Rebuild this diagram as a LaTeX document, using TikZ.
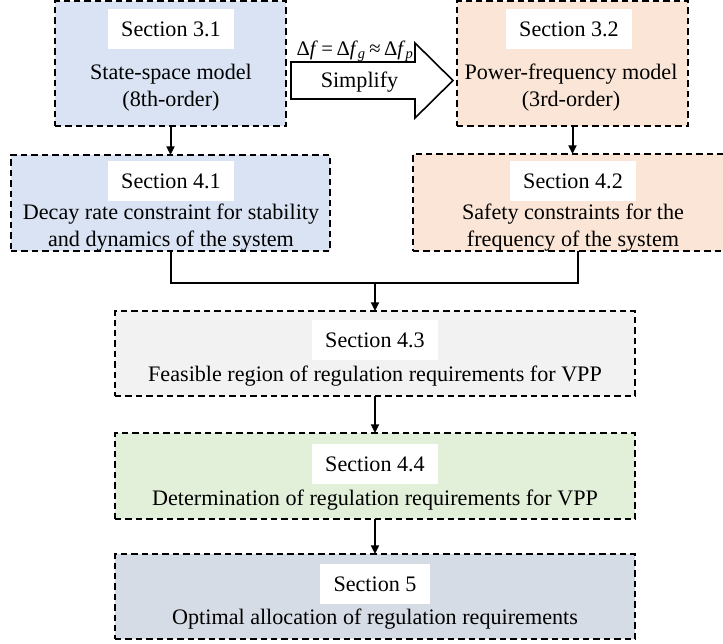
\documentclass[tikz,border=0pt]{standalone}
\usepackage{fontspec}
\setmainfont{Liberation Serif}
\usetikzlibrary{arrows.meta}
\definecolor{cblue}{HTML}{DAE3F3}
\definecolor{cpeach}{HTML}{FBE5D6}
\definecolor{cgray}{HTML}{F2F2F2}
\definecolor{cgreen}{HTML}{E2F0D9}
\definecolor{cslate}{HTML}{D6DCE5}
\newcommand\fs{\fontsize{16.6}{20.2}\selectfont}
\begin{document}
\begin{tikzpicture}[x=0.75pt,y=-0.75pt,
  box/.style={draw=black, line width=1.1pt, dash pattern=on 4.8pt off 3pt,
    inner sep=0pt, outer sep=0pt},
  lbl/.style={fill=white, inner xsep=10pt, inner ysep=0pt, minimum height=30pt, font=\fs},
  txt/.style={inner sep=0pt, align=center, font=\fs},
  conn/.style={line width=1.5pt},
  arr/.style={conn, -{Triangle[length=6.5pt,width=6pt]}}]
\useasboundingbox (0,0) rectangle (723,643);
% boxes
\node[box, fill=cblue, minimum width=173.25pt, minimum height=93.75pt] (b31) at (170.5,63.5) {};
\node[box, fill=cpeach, minimum width=173.25pt, minimum height=93.75pt] (b32) at (572.5,63.5) {};
\node[box, fill=cblue, minimum width=239.25pt, minimum height=72pt] (b41) at (170.5,203) {};
\begin{scope}
\clip (0,0) rectangle (723,643);
\node[box, fill=cpeach, minimum width=240pt, minimum height=72.75pt] (b42) at (573,202.5) {};
\end{scope}
\node[box, fill=cgray, minimum width=390pt, minimum height=63.75pt] (b43) at (375,353.5) {};
\node[box, fill=cgreen, minimum width=390pt, minimum height=64.5pt] (b44) at (375,476) {};
\node[box, fill=cslate, minimum width=390pt, minimum height=63.75pt] (b5) at (375,596.5) {};
% labels
\node[lbl] (l31) at (171,29) {Section 3.1};
\node[txt] (t31) at (171,88) {State-space model\\(8th-order)};
\node[lbl] (l32) at (569,29) {Section 3.2};
\node[txt] (t32) at (571,88) {Power-frequency model\\(3rd-order)};
\node[lbl] (l41) at (171,181) {Section 4.1};
\node[txt] (t41) at (171,228) {Decay rate constraint for stability\\and dynamics of the system};
\node[lbl] (l42) at (573,181) {Section 4.2};
\node[txt] (t42) at (573,228) {Safety constraints for the\\frequency of the system};
\node[lbl] (l43) at (375,340) {Section 4.3};
\node[txt] (t43) at (375,376.5) {Feasible region of regulation requirements for VPP};
\node[lbl] (l44) at (375,464) {Section 4.4};
\node[txt] (t44) at (375,500.5) {Determination of regulation requirements for VPP};
\node[lbl] (l5) at (375,584) {Section 5};
\node[txt] (t5) at (375,619.5) {Optimal allocation of regulation requirements};
% hollow simplify arrow
\draw[fill=white, line width=1.2pt, line join=miter]
  (291,62) -- (415,62) -- (415,43) -- (453,80.5) -- (415,118) -- (415,99) -- (291,99) -- cycle;
\node[txt] (simp) at (359.5,82) {Simplify};
\node[inner sep=0pt, font=\fontsize{15.5}{18}\selectfont] (eq) at (355,51)
  {Δ\textit{f}\,=\,Δ\textit{f}\textsubscript{\textit{g}}\,≈\,Δ\textit{f}\textsubscript{\textit{p}}};
% connectors
\coordinate (m) at (375,283);
\draw[arr] (b31.south) -- (b31.south |- b41.north);
\draw[arr] (b32.south) -- (b32.south |- b42.north);
\draw[conn] (b41.south) |- (m);
\draw[conn] (m) -| ([xshift=3.75pt]b42.south);
\draw[arr] (m) -- (b43.north);
\draw[arr] (b43.south) -- (b44.north);
\draw[arr] (b44.south) -- (b5.north);
\end{tikzpicture}
\end{document}
